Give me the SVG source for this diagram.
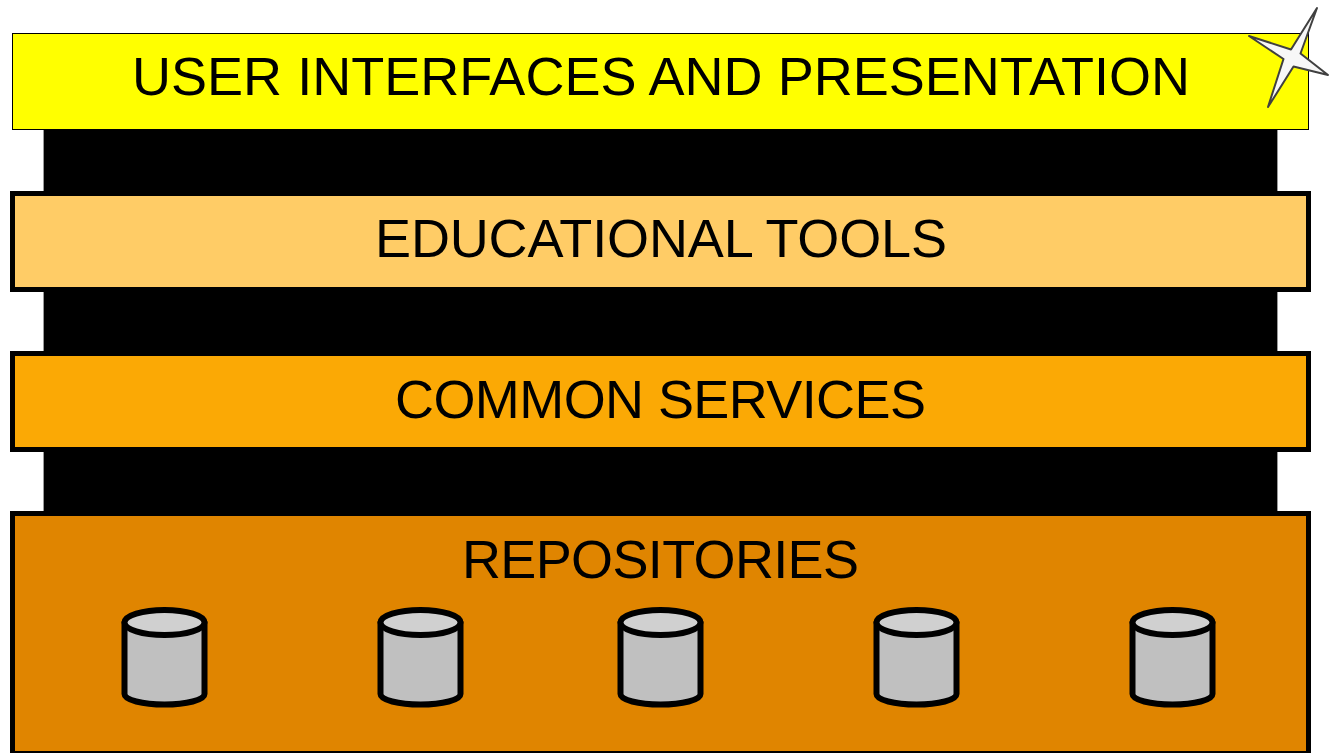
<svg xmlns="http://www.w3.org/2000/svg" width="1329" height="753" viewBox="0 0 1329 753">
<style>
.t{font-family:"Liberation Sans",Arial,sans-serif;font-size:54px;fill:#000;text-anchor:middle}
.bar{stroke:#000;stroke-width:5}
.c{fill:#c0c0c0;stroke:#000;stroke-width:6;stroke-linejoin:round}
.ct{fill:#d0d0d0;stroke:#000;stroke-width:6}
</style>
<defs>
<g id="can">
<path class="c" d="M0 12.500V84C0 90 18 94.500 40 94.500S80 90 80 84V12.500Z"/>
<ellipse class="ct" cx="40" cy="12.500" rx="40" ry="12.500"/>
</g>
</defs>
<g id="connectors">
<rect x="43.500" y="120" width="1234" height="400" fill="#000" stroke="#999" stroke-width="1"/>
</g>
<g id="node-ui">
<rect x="12.500" y="33.500" width="1296" height="96" fill="#ffff00" stroke="#000" stroke-width="1"/>
<text class="t" x="661" y="95" textLength="1058" lengthAdjust="spacing">USER INTERFACES AND PRESENTATION</text>
</g>
<g id="node-star">
<path d="M1317 8L1300.500 53.500L1328 75L1293.500 66.500L1268 107L1283.500 59L1249 36L1291 49.500Z" fill="#f7f7f7" stroke="#404040" stroke-width="2" stroke-linejoin="round"/>
</g>
<g id="node-tools">
<rect class="bar" x="12.500" y="193.500" width="1296" height="96" fill="#ffcc66"/>
<text class="t" x="661" y="257" textLength="572" lengthAdjust="spacing">EDUCATIONAL TOOLS</text>
</g>
<g id="node-services">
<rect class="bar" x="12.500" y="353.500" width="1296" height="96" fill="#fba905"/>
<text class="t" x="660.500" y="418" textLength="531" lengthAdjust="spacing">COMMON SERVICES</text>
</g>
<g id="node-repositories">
<rect class="bar" x="12.500" y="513.500" width="1296" height="240" fill="#e08500"/>
<text class="t" x="660.500" y="578" textLength="397" lengthAdjust="spacing">REPOSITORIES</text>
</g>
<g id="db1"><use href="#can" x="124.500" y="610"/></g>
<g id="db2"><use href="#can" x="380.500" y="610"/></g>
<g id="db3"><use href="#can" x="620.500" y="610"/></g>
<g id="db4"><use href="#can" x="876.500" y="610"/></g>
<g id="db5"><use href="#can" x="1132.500" y="610"/></g>
</svg>
